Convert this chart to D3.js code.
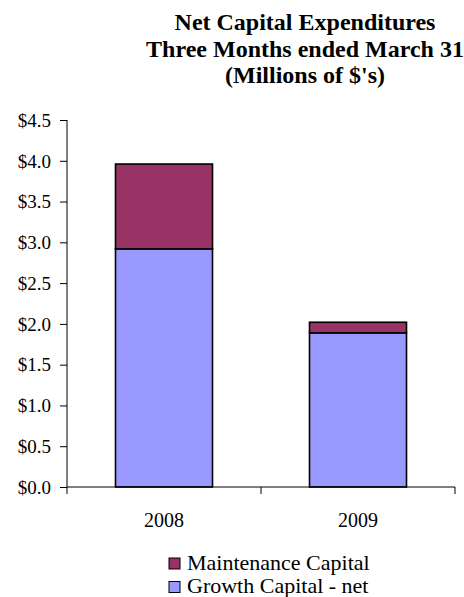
<!DOCTYPE html>
<html>
<head>
<meta charset="utf-8">
<script src="https://cdn.jsdelivr.net/npm/d3@7"></script>
<style>
  body { margin: 0; background: #fff; }
</style>
</head>
<body>
<div id="chart"></div>
<script>
// Chart data
const years = ['2008', '2009'];
const growthCapital = [2.92, 1.89];
const maintenanceCapital = [1.04, 0.13];
const seriesNames = ['Maintenance Capital', 'Growth Capital - net'];
const yTicks = [0, 0.5, 1.0, 1.5, 2.0, 2.5, 3.0, 3.5, 4.0, 4.5];
const titleLines = ['Net Capital Expenditures', 'Three Months ended March 31', "(Millions of $'s)"];

const width = 464;
const height = 597;
const margin = { top: 120, right: 9, bottom: 110, left: 67 };
const fontFamily = '"Liberation Serif", "Times New Roman", Times, serif';

const colors = {
    maintenance: '#993366',
    growth: '#9999ff'
};

const svg = d3.select('#chart')
    .append('svg')
    .attr('width', width)
    .attr('height', height)
    .attr('font-family', fontFamily);

// Title
svg.append('g')
    .selectAll('text')
    .data(titleLines)
    .join('text')
    .attr('x', 305)
    .attr('y', (d, i) => 30 + i * 26.5)
    .attr('text-anchor', 'middle')
    .style('font-family', fontFamily)
    .style('font-size', '24px')
    .style('font-weight', 'bold')
    .text(d => d);

const x = d3.scaleBand()
    .domain(years)
    .range([margin.left, width - margin.right])
    .paddingInner(0.5)
    .paddingOuter(0.25);

const y = d3.scaleLinear()
    .domain([0, 4.5])
    .range([height - margin.bottom, margin.top]);

// Stacked bars
const rows = years.map((yr, i) => ({ year: yr, growth: growthCapital[i], maintenance: maintenanceCapital[i] }));
const stack = d3.stack().keys(['growth', 'maintenance'])(rows);

svg.append('g')
    .selectAll('g')
    .data(stack)
    .join('g')
    .attr('fill', d => colors[d.key])
    .selectAll('rect')
    .data(d => d)
    .join('rect')
    .attr('x', d => x(d.data.year))
    .attr('width', x.bandwidth())
    .attr('y', d => y(d[1]))
    .attr('height', d => y(d[0]) - y(d[1]))
    .attr('stroke', '#000')
    .attr('stroke-width', 1.6);

// Y axis
const yAxis = svg.append('g')
    .attr('transform', `translate(${margin.left},0)`)
    .call(d3.axisLeft(y)
        .tickValues(yTicks)
        .tickSize(7)
        .tickPadding(9)
        .tickFormat(d => '$' + d3.format('.1f')(d)));
yAxis.attr('font-family', fontFamily).attr('font-size', 19);
yAxis.selectAll('text')
    .style('font-family', fontFamily)
    .style('font-size', '19px')
    .attr('dy', '0.33em');
yAxis.selectAll('line, path').attr('stroke', '#000');
yAxis.select('.domain').attr('d', `M0,${y(4.5)}V${y(0)}`);

// X axis with ticks at band boundaries
const xAxisY = y(0);
const xAxis = svg.append('g');
xAxis.append('line')
    .attr('x1', margin.left)
    .attr('x2', width - margin.right)
    .attr('y1', xAxisY)
    .attr('y2', xAxisY)
    .attr('stroke', '#000');
const step = (width - margin.right - margin.left) / years.length;
xAxis.selectAll('.xtick')
    .data(d3.range(years.length + 1))
    .join('line')
    .attr('class', 'xtick')
    .attr('x1', i => margin.left + i * step)
    .attr('x2', i => margin.left + i * step)
    .attr('y1', xAxisY)
    .attr('y2', xAxisY + 7)
    .attr('stroke', '#000');
xAxis.selectAll('.xlabel')
    .data(years)
    .join('text')
    .attr('class', 'xlabel')
    .attr('x', d => x(d) + x.bandwidth() / 2)
    .attr('y', xAxisY + 40)
    .attr('text-anchor', 'middle')
    .style('font-family', fontFamily)
    .style('font-size', '20px')
    .text(d => d);

// Legend
const legendData = [
    { name: seriesNames[0], color: colors.maintenance },
    { name: seriesNames[1], color: colors.growth }
];
const legend = svg.append('g')
    .selectAll('g')
    .data(legendData)
    .join('g')
    .attr('transform', (d, i) => `translate(169, ${558 + i * 23.5})`);
legend.append('rect')
    .attr('width', 11)
    .attr('height', 11)
    .attr('fill', d => d.color)
    .attr('stroke', '#000')
    .attr('stroke-width', 1);
legend.append('text')
    .attr('x', 18)
    .attr('y', 11.5)
    .style('font-family', fontFamily)
    .style('font-size', '22px')
    .text(d => d.name);
</script>
</body>
</html>
